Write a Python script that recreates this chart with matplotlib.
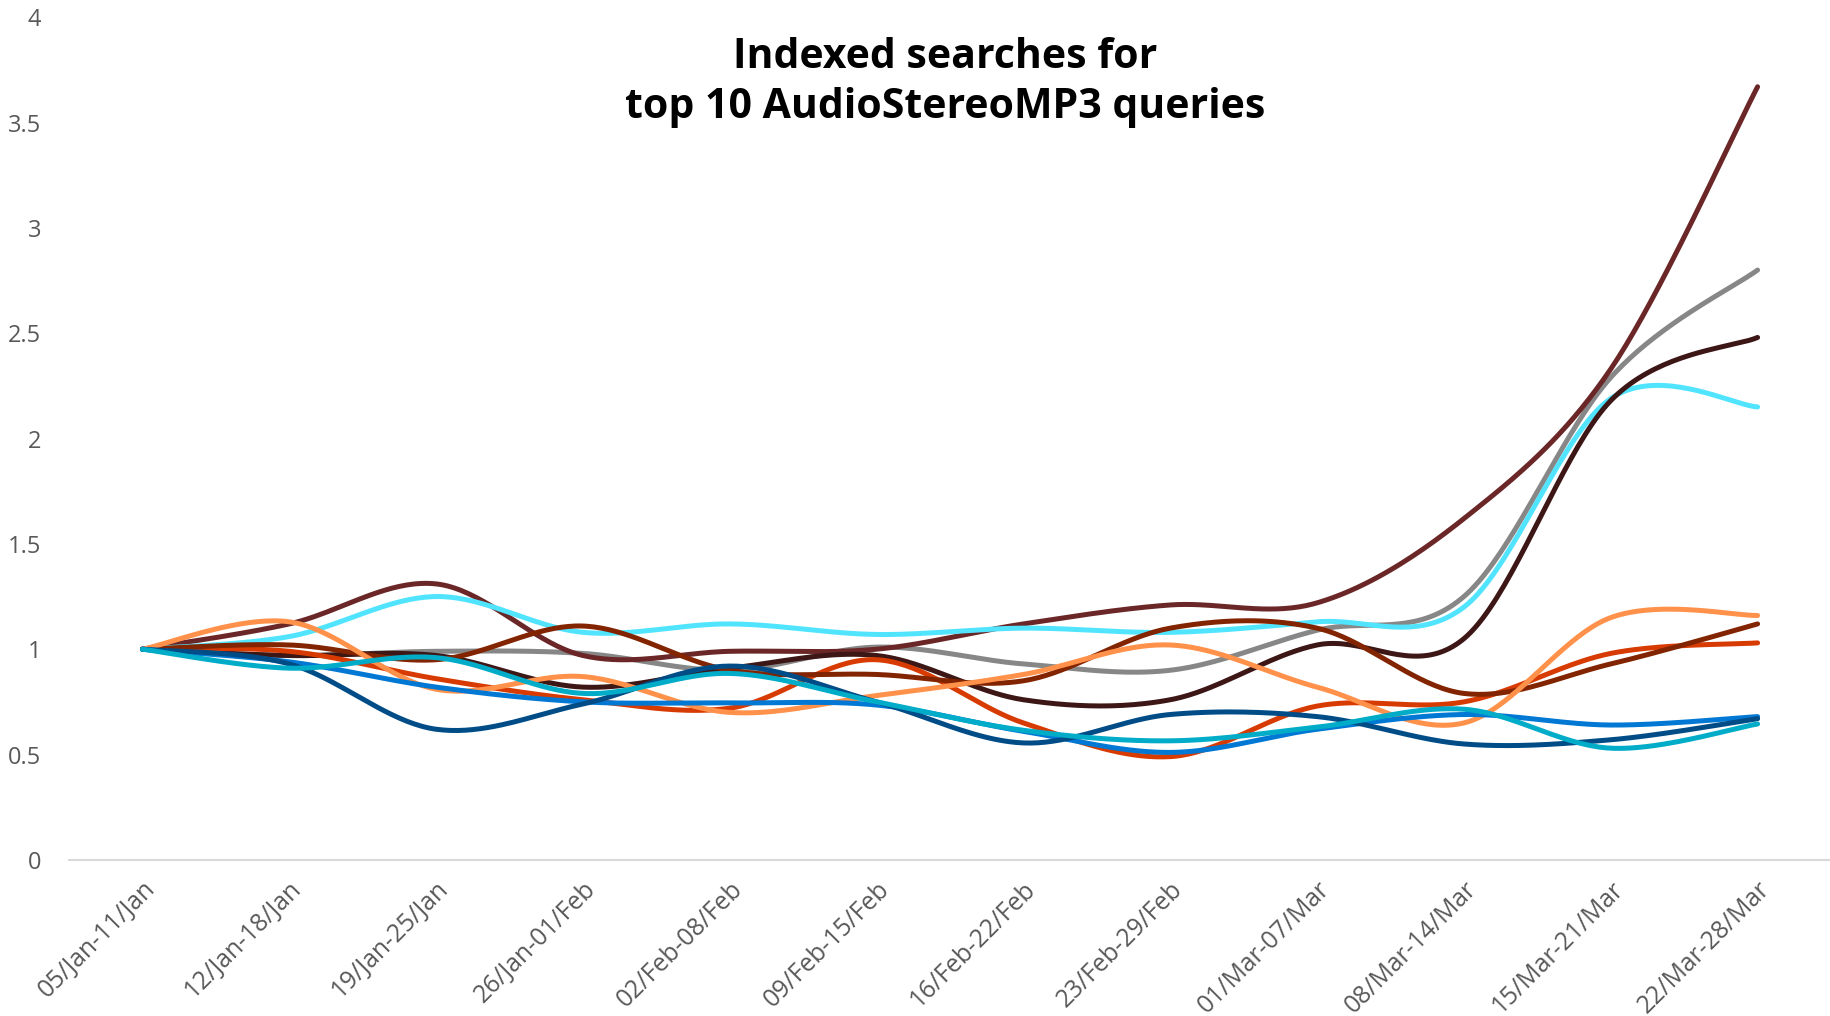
import numpy as np
import matplotlib
matplotlib.use("Agg")
import matplotlib.pyplot as plt

categories = ["05/Jan-11/Jan", "12/Jan-18/Jan", "19/Jan-25/Jan", "26/Jan-01/Feb",
              "02/Feb-08/Feb", "09/Feb-15/Feb", "16/Feb-22/Feb", "23/Feb-29/Feb",
              "01/Mar-07/Mar", "08/Mar-14/Mar", "15/Mar-21/Mar", "22/Mar-28/Mar"]

gray       = [1.00, 0.97, 0.99, 0.98, 0.90, 1.01, 0.93, 0.90, 1.09, 1.25, 2.29, 2.80]
maroon     = [1.00, 1.12, 1.31, 0.97, 0.99, 1.00, 1.12, 1.21, 1.22, 1.62, 2.33, 3.67]
cyan       = [1.00, 1.06, 1.25, 1.08, 1.12, 1.07, 1.10, 1.08, 1.13, 1.20, 2.19, 2.15]
dark_brown = [1.00, 0.97, 0.97, 0.82, 0.91, 0.97, 0.76, 0.76, 1.02, 1.05, 2.18, 2.48]
orange_red = [1.00, 0.99, 0.86, 0.76, 0.72, 0.95, 0.65, 0.49, 0.73, 0.75, 0.98, 1.03]
brown      = [1.00, 1.02, 0.95, 1.11, 0.90, 0.88, 0.85, 1.10, 1.10, 0.79, 0.93, 1.12]
light_or   = [1.00, 1.13, 0.81, 0.87, 0.70, 0.78, 0.88, 1.02, 0.82, 0.65, 1.15, 1.16]
blue       = [1.00, 0.94, 0.82, 0.75, 0.745, 0.735, 0.61, 0.51, 0.62, 0.69, 0.64, 0.68]
dark_blue  = [1.00, 0.93, 0.62, 0.74, 0.92, 0.75, 0.555, 0.69, 0.68, 0.55, 0.57, 0.67]
teal       = [1.00, 0.91, 0.96, 0.79, 0.885, 0.75, 0.615, 0.565, 0.63, 0.715, 0.53, 0.645]

series = [
    (gray, "#878787"),
    (maroon, "#6B2727"),
    (cyan, "#50E4FF"),
    (dark_brown, "#3D1616"),
    (orange_red, "#D83B01"),
    (brown, "#832400"),
    (light_or, "#FF914A"),
    (blue, "#0078D4"),
    (dark_blue, "#004C87"),
    (teal, "#00ACC8"),
]


def smooth(xs, ys, n=40):
    """Catmull-Rom style smoothing (like spreadsheet 'smoothed line')."""
    xs = np.asarray(xs, float)
    ys = np.asarray(ys, float)
    px = np.concatenate([[xs[0]], xs, [xs[-1]]])
    py = np.concatenate([[ys[0]], ys, [ys[-1]]])
    ox, oy = [], []
    t = np.linspace(0, 1, n, endpoint=False)
    for i in range(1, len(px) - 2):
        p0x, p1x, p2x, p3x = px[i - 1], px[i], px[i + 1], px[i + 2]
        p0y, p1y, p2y, p3y = py[i - 1], py[i], py[i + 1], py[i + 2]
        c1x = p1x + (p2x - p0x) / 6
        c1y = p1y + (p2y - p0y) / 6
        c2x = p2x - (p3x - p1x) / 6
        c2y = p2y - (p3y - p1y) / 6
        bx = (1 - t) ** 3 * p1x + 3 * (1 - t) ** 2 * t * c1x + 3 * (1 - t) * t ** 2 * c2x + t ** 3 * p2x
        by = (1 - t) ** 3 * p1y + 3 * (1 - t) ** 2 * t * c1y + 3 * (1 - t) * t ** 2 * c2y + t ** 3 * p2y
        ox.append(bx)
        oy.append(by)
    ox.append([xs[-1]])
    oy.append([ys[-1]])
    return np.concatenate(ox), np.concatenate(oy)


plt.rcParams['font.family'] = ['Open Sans', 'DejaVu Sans']

fig = plt.figure(figsize=(18.31, 10.16), dpi=100)
ax = fig.add_axes([0.0377, 0.1537, 0.9623, 0.8293])

x = np.arange(len(categories))
for vals, col in series:
    sx, sy = smooth(x, vals)
    ax.plot(sx, sy, color=col, lw=3.6, solid_capstyle='round', solid_joinstyle='round')

ax.set_xlim(-0.5, 11.5)
ax.set_ylim(0, 4)
ax.set_yticks([0, 0.5, 1, 1.5, 2, 2.5, 3, 3.5, 4])
ax.set_yticklabels(["0", "0.5", "1", "1.5", "2", "2.5", "3", "3.5", "4"])
ax.set_xticks(x)
ax.set_xticklabels(categories, rotation=45, ha='right', va='top', rotation_mode='anchor')

for s in ['top', 'right', 'left']:
    ax.spines[s].set_visible(False)
ax.spines['bottom'].set_color('#D9D9D9')
ax.spines['bottom'].set_linewidth(1.5)
ax.tick_params(axis='both', length=0, colors='#595959')
ax.tick_params(axis='y', pad=20, labelsize=17)
ax.tick_params(axis='x', pad=12, labelsize=17.8)

fig.text(0.516, 0.919, "Indexed searches for\ntop 10 AudioStereoMP3 queries",
         ha='center', va='center', fontsize=29.5, fontweight='bold', color='black',
         linespacing=1.3)

fig.savefig("out.png", dpi=100)
